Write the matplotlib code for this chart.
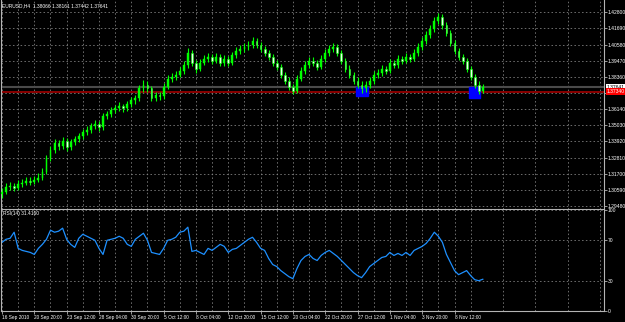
import numpy as np
import matplotlib.pyplot as plt
from matplotlib.patches import Rectangle

plt.rcParams['font.family'] = ['Liberation Sans', 'DejaVu Sans']

# EURUSD H4 (one value per two bars)
first_open = 1.3030
closes = [1.3047, 1.3081, 1.3088, 1.3075, 1.3102, 1.3109, 1.3122, 1.3116, 1.3129, 1.3143,
          1.3184, 1.3279, 1.3333, 1.3381, 1.3361, 1.3395, 1.3354, 1.3388, 1.3408, 1.3429,
          1.3456, 1.3470, 1.3497, 1.3510, 1.3490, 1.3565, 1.3579, 1.3606, 1.3619, 1.3633,
          1.3619, 1.3647, 1.3674, 1.3688, 1.3756, 1.3783, 1.3756, 1.3694, 1.3708, 1.3701,
          1.3769, 1.3824, 1.3837, 1.3851, 1.3878, 1.3919, 1.4001, 1.3933, 1.3892, 1.3933,
          1.3960, 1.3974, 1.3947, 1.3974, 1.3933, 1.3960, 1.3933, 1.3987, 1.4014, 1.4028,
          1.4042, 1.4055, 1.4083, 1.4055, 1.4028, 1.4001, 1.3974, 1.3933, 1.3906, 1.3851,
          1.3810, 1.3769, 1.3742, 1.3824, 1.3878, 1.3919, 1.3947, 1.3933, 1.3906, 1.3960,
          1.4001, 1.4028, 1.4042, 1.4001, 1.3947, 1.3892, 1.3851, 1.3810, 1.3783, 1.3756,
          1.3783, 1.3810, 1.3851, 1.3865, 1.3892, 1.3878, 1.3933, 1.3919, 1.3960, 1.3947,
          1.3974, 1.3960, 1.4001, 1.4042, 1.4083, 1.4123, 1.4164, 1.4219, 1.4246, 1.4191,
          1.4137, 1.4069, 1.4014, 1.3974, 1.3947, 1.3892, 1.3837, 1.3783, 1.3742, 1.37641]
highs = [1.3072, 1.3105, 1.3112, 1.3108, 1.3125, 1.3134, 1.3150, 1.3144, 1.3155, 1.3175,
         1.3210, 1.3300, 1.3360, 1.3408, 1.3405, 1.3422, 1.3414, 1.3410, 1.3432, 1.3450,
         1.3480, 1.3498, 1.3520, 1.3538, 1.3532, 1.3588, 1.3604, 1.3630, 1.3644, 1.3660,
         1.3652, 1.3670, 1.3700, 1.3712, 1.3782, 1.3812, 1.3805, 1.3774, 1.3734, 1.3730,
         1.3792, 1.3850, 1.3862, 1.3876, 1.3905, 1.3945, 1.4032, 1.4022, 1.3955, 1.3958,
         1.3985, 1.4002, 1.3995, 1.4000, 1.3994, 1.3985, 1.3980, 1.4010, 1.4040, 1.4055,
         1.4068, 1.4085, 1.4112, 1.4105, 1.4076, 1.4050, 1.4022, 1.3995, 1.3955, 1.3925,
         1.3872, 1.3832, 1.3790, 1.3846, 1.3902, 1.3942, 1.3972, 1.3970, 1.3955, 1.3985,
         1.4025, 1.4054, 1.4072, 1.4065, 1.4022, 1.3968, 1.3915, 1.3872, 1.3832, 1.3805,
         1.3808, 1.3834, 1.3876, 1.3890, 1.3916, 1.3914, 1.3956, 1.3955, 1.3984, 1.3982,
         1.3998, 1.3995, 1.4026, 1.4066, 1.4108, 1.4150, 1.4190, 1.4246, 1.4278, 1.4265,
         1.4212, 1.4158, 1.4090, 1.4035, 1.3995, 1.3968, 1.3912, 1.3858, 1.3805, 1.3790]
lows = [1.3005, 1.3030, 1.3058, 1.3050, 1.3056, 1.3080, 1.3090, 1.3094, 1.3098, 1.3110,
        1.3126, 1.3166, 1.3258, 1.3312, 1.3335, 1.3342, 1.3328, 1.3335, 1.3366, 1.3388,
        1.3410, 1.3435, 1.3452, 1.3478, 1.3464, 1.3472, 1.3546, 1.3560, 1.3585, 1.3600,
        1.3594, 1.3598, 1.3628, 1.3652, 1.3670, 1.3735, 1.3730, 1.3668, 1.3670, 1.3678,
        1.3682, 1.3750, 1.3802, 1.3816, 1.3832, 1.3858, 1.3900, 1.3908, 1.3866, 1.3874,
        1.3915, 1.3940, 1.3925, 1.3928, 1.3910, 1.3914, 1.3908, 1.3915, 1.3968, 1.3995,
        1.4008, 1.4024, 1.4036, 1.4032, 1.4005, 1.3980, 1.3952, 1.3910, 1.3882, 1.3830,
        1.3786, 1.3745, 1.3718, 1.3725, 1.3805, 1.3856, 1.3898, 1.3910, 1.3884, 1.3888,
        1.3940, 1.3982, 1.4010, 1.3980, 1.3925, 1.3870, 1.3828, 1.3788, 1.3758, 1.3728,
        1.3735, 1.3762, 1.3790, 1.3830, 1.3845, 1.3856, 1.3860, 1.3898, 1.3900, 1.3926,
        1.3928, 1.3938, 1.3942, 1.3982, 1.4024, 1.4064, 1.4105, 1.4145, 1.4198, 1.4168,
        1.4115, 1.4048, 1.3992, 1.3952, 1.3925, 1.3870, 1.3815, 1.3760, 1.3720, 1.3725]
rsi = [68, 71, 72, 78, 62, 60, 59, 58, 56, 62, 66, 71, 80, 78, 79, 82, 71, 66, 63, 72,
       76, 74, 72, 70, 62, 56, 70, 71, 72, 74, 72, 66, 64, 71, 74, 77, 70, 58, 57, 56,
       62, 70, 71, 73, 78, 79, 83, 59, 60, 58, 56, 62, 60, 63, 66, 64, 58, 61, 62, 65,
       68, 71, 73, 68, 62, 60, 52, 46, 44, 40, 37, 34, 32, 42, 50, 54, 56, 52, 50, 55,
       58, 60, 57, 54, 50, 46, 42, 38, 35, 33, 38, 44, 47, 50, 53, 54, 58, 55, 57, 55,
       58, 55, 60, 62, 64, 67, 72, 78, 74, 68, 56, 48, 40, 36, 38, 40, 35, 31, 30, 31.416]

price_levels = [1.42800, 1.41690, 1.40580, 1.39470, 1.38360, 1.37250, 1.36140,
                1.35030, 1.33920, 1.32810, 1.31700, 1.30590, 1.29480]
time_labels = ['16 Sep 2010', '20 Sep 20:00', '23 Sep 12:00', '28 Sep 04:00', '30 Sep 20:00',
               '5 Oct 12:00', '8 Oct 04:00', '12 Oct 20:00', '15 Oct 12:00', '20 Oct 04:00',
               '22 Oct 20:00', '27 Oct 12:00', '1 Nov 04:00', '3 Nov 20:00', '8 Nov 12:00']
bid = 1.37641
support = 1.37340
# blue boxes: first bar, last bar, low, high
zones = [(87.6, 90.6, 1.37044, 1.37663), (115.6, 118.3, 1.36906, 1.37663)]
header = 'EURUSD,H4  1.38066 1.38161 1.37442 1.37641'
rsi_title = 'RSI(14) 31.4160'

W, H = 625, 322
fig = plt.figure(figsize=(W / 100, H / 100), dpi=100, facecolor='black')
ax = fig.add_axes([1 / W, (H - 209) / H, 603 / W, 209 / H], facecolor='black')
ax2 = fig.add_axes([1 / W, (H - 311) / H, 603 / W, 101 / H], facecolor='black', sharex=ax)

grid_kw = dict(color='#8a8a8a', lw=0.55, linestyle=(0, (2, 3)))
edge = '#b4b4b4'
lab = 3.6

closes = np.array(closes)
highs = np.array(highs)
lows = np.array(lows)
opens = np.r_[first_open, closes[:-1]]
idx = np.arange(len(closes))
up = closes >= opens

ax.vlines(idx, lows, highs, color='#00ff00', lw=0.8, zorder=3)
ax.bar(idx[up], (closes - opens)[up], bottom=opens[up], width=0.45,
       color='#00ff00', edgecolor='#00ff00', lw=0.3, zorder=4)
ax.bar(idx[~up], (opens - closes)[~up], bottom=closes[~up], width=0.45,
       color='#e8ffe8', edgecolor='#00ff00', lw=0.4, zorder=4)

ax.axhline(bid, color='#4a4a4a', lw=1.5, zorder=2)
ax.axhline(support, color='#8b0000', lw=1.4, zorder=2)
for x0, x1, lo, hi in zones:
    ax.add_patch(Rectangle((x0, lo), x1 - x0, hi - lo, color='#0000ff', zorder=2.8))

ax.set_xlim(-0.25, 149.0)
ax.set_ylim(1.29273, 1.43646)
ax.yaxis.tick_right()
ax.set_yticks(price_levels)
ax.set_yticklabels(['' if p == 1.37250 else f'{p:.5f}' for p in price_levels])
ax.tick_params(axis='y', colors=edge, labelcolor='white', labelsize=lab, length=2, width=0.6, pad=0.8)
ax.set_xticks(np.arange(0, 150, 8))
ax.set_xticks(np.arange(4, 150, 8), minor=True)
ax.tick_params(axis='x', which='both', length=0, labelbottom=False)
ax.grid(which='both', **grid_kw)
ax.set_axisbelow(True)

ax.text(1.004, bid, f'{bid:.5f}', transform=ax.get_yaxis_transform(), fontsize=lab,
        color='black', va='center', ha='left', zorder=6,
        bbox=dict(boxstyle='square,pad=0.15', fc='white', ec='none'))
ax.text(1.004, support, f'{support:.5f}', transform=ax.get_yaxis_transform(), fontsize=lab,
        color='white', va='center', ha='left', zorder=6,
        bbox=dict(boxstyle='square,pad=0.15', fc='#ff0000', ec='none'))

# RSI window
ax2.plot(idx, rsi, color='#1e90ff', lw=0.9)
ax2.set_ylim(0, 100)
ax2.yaxis.tick_right()
ax2.set_yticks([0, 30, 70, 100])
ax2.set_yticklabels(['0', '30', '70', '100'])
ax2.tick_params(axis='y', colors=edge, labelcolor='white', labelsize=lab, length=2, width=0.6, pad=0.8)
ax2.set_xticks(np.arange(0, 8 * len(time_labels), 8))
ax2.set_xticklabels(time_labels, ha='left')
ax2.set_xticks(np.arange(4, 150, 8), minor=True)
ax2.tick_params(axis='x', which='major', colors=edge, labelcolor='white', labelsize=3.4,
                length=2, width=0.6, pad=0.6)
ax2.tick_params(axis='x', which='minor', length=0)
ax2.grid(axis='x', which='both', **grid_kw)
ax2.grid(axis='y', **grid_kw)
ax2.set_axisbelow(True)

for a in (ax, ax2):
    a.spines['top'].set_visible(False)
    for s in ('left', 'right', 'bottom'):
        a.spines[s].set_color(edge)
        a.spines[s].set_linewidth(0.8)

fig.text(2.5 / W, 1 - 5.7 / H, header, fontsize=3.5, color='white', va='center', ha='left')
fig.text(3 / W, 1 - 214 / H, rsi_title, fontsize=3.5, color='white', va='center', ha='left')

fig.savefig('out.png', dpi=100, facecolor='black')
